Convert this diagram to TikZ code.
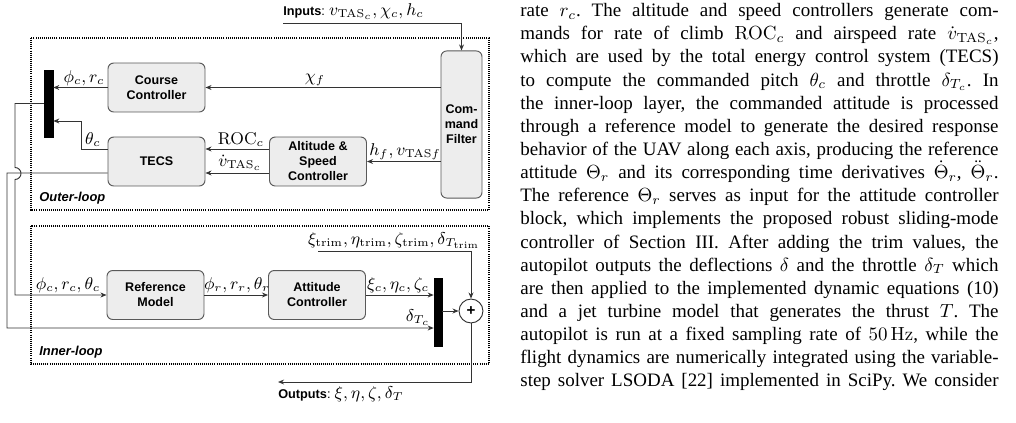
\documentclass[tikz,border=0pt]{standalone}
\usepackage[no-math]{fontspec}
\setmainfont{Liberation Serif}
\newfontfamily\diagsans{Liberation Sans}
\usetikzlibrary{arrows.meta,calc}
\newcommand\jl[1]{\makebox[\linewidth][s]{#1}\\}
\newcommand\jlast[1]{\makebox[\linewidth][s]{#1}}
\begin{document}
\frenchspacing
\begin{tikzpicture}[x=0.527pt,y=-0.527pt,
  blk/.style={draw=black!65, fill=black!7, rounded corners=3pt, line width=0.5pt,
    font=\diagsans\bfseries\fontsize{6.6}{7.9}\selectfont, align=center, inner sep=0pt,
    minimum width=51.1pt, minimum height=25.8pt},
  muxbar/.style={fill=black, draw=black, inner sep=0pt, line width=0.3pt},
  conn/.style={draw=black!80, line width=0.5pt},
  arr/.style={conn, -{Stealth[length=3.2pt,width=2.6pt]}},
  lbl/.style={font=\fontsize{8.6}{10}\selectfont, inner sep=1pt, anchor=south},
  loopbox/.style={draw=black, line width=0.7pt, dash pattern=on 0.5pt off 0.6pt},
  looplbl/.style={font=\diagsans\bfseries\itshape\fontsize{6.8}{8}\selectfont, anchor=west, inner sep=0pt},
  iolbl/.style={font=\fontsize{8.8}{10}\selectfont, inner sep=1pt},
]
\useasboundingbox (0,0) rectangle (1016,422);

% loop frames
\draw[loopbox] (31,38) rectangle (489,210);
\draw[loopbox] (31,226) rectangle (489,364);
\node[looplbl] (outerlbl) at (39,198) {Outer-loop};
\node[looplbl] (innerlbl) at (39,352) {Inner-loop};

% blocks
\node[blk] (cc) at (156.5,87.5) {Course\\Controller};
\node[blk] (tecs) at (156.5,161.5) {TECS};
\node[blk] (asc) at (318,161.5) {Altitude \&\\Speed\\Controller};
\node[blk, minimum width=21.6pt, minimum height=77.5pt] (cf) at (461.5,124.5) {Com-\\mand\\Filter};
\node[blk] (rm) at (155.5,295) {Reference\\Model};
\node[blk] (ac) at (317,295) {Attitude\\Controller};
\node[muxbar, minimum width=4.7pt, minimum height=35.3pt] (mux1) at (48.5,103.5) {};
\node[muxbar, minimum width=4.2pt, minimum height=35.8pt] (mux2) at (438,312) {};
\node[draw=black!80, fill=white, circle, line width=0.5pt, minimum size=12.6pt, inner sep=0pt,
  font=\diagsans\bfseries\fontsize{8}{9}\selectfont] (sum) at (471,311) {+};

% inputs
\coordinate (inp) at (283,23);
\draw[arr] (inp) -| (cf.north);
\node[iolbl, anchor=south west] (inplbl) at (281,22) {{\diagsans\bfseries\fontsize{6.7}{8}\selectfont Inputs}{\diagsans\fontsize{6.7}{8}\selectfont :} $v_{\mathrm{TAS}_c}, \chi_c, h_c$};

% outer loop connectors
\draw[arr] (cf.west |- cc.east) -- (cc.east);
\node[lbl] (chif) at (315,88) {$\chi_f$};
\draw[arr] (cf.west |- asc.east) -- (asc.east);
\node[lbl] (hf) at (405,162) {$h_f, v_{\mathrm{TAS}f}$};
\draw[arr] ($(asc.west)+(0,-12.5)$) -- ($(tecs.east)+(0,-12.5)$);
\node[lbl] (roc) at (241,149) {$\mathrm{ROC}_c$};
\draw[arr] ($(asc.west)+(0,11.5)$) -- ($(tecs.east)+(0,11.5)$);
\node[lbl] (vdot) at (240,173) {$\dot{v}_{\mathrm{TAS}_c}$};
\draw[arr] (cc.west) -- (cc.west -| mux1.east);
\node[lbl] (phirc) at (84,88) {$\phi_c, r_c$};
\coordinate (thk) at (81,121);
\draw[arr] ($(tecs.west)+(0,-12.5)$) -- (81,149) -- (thk) -- (thk -| mux1.east);
\node[lbl] (thc) at (93,149) {$\theta_c$};

% mux1 output to reference model (with jump)
\draw[arr] (mux1.west) -- (15,103.5) -- (15,167.5) arc[start angle=90,end angle=-90,radius=3.16pt] -- (15,295) -- (rm.west);
\node[lbl] (phirtc) at (68,295) {$\phi_c, r_c, \theta_c$};

% throttle
\coordinate (thr) at (7,328);
\draw[arr] ($(tecs.west)+(0,11.5)$) -- (7,173) -- (thr) -- (thr -| mux2.west);
\node[lbl] (dtc) at (418,328) {$\delta_{T_c}$};

% inner loop connectors
\draw[arr] (rm.east) -- (ac.west);
\node[lbl] (phir) at (237,295) {$\phi_r, r_r, \theta_r$};
\draw[arr] (ac.east) -- (ac.east -| mux2.west);
\node[lbl] (xic) at (398,295) {$\xi_c, \eta_c, \zeta_c$};
\draw[arr] (mux2.east |- sum.west) -- (sum.west);
\coordinate (trim) at (318,251);
\draw[arr] (trim) -| (sum.north);
\node[lbl] (trimlbl) at (394,251) {$\xi_{\mathrm{trim}}, \eta_{\mathrm{trim}}, \zeta_{\mathrm{trim}}, \delta_{T_{\mathrm{trim}}}$};
\coordinate (outp) at (278,382);
\draw[arr] (sum.south) |- (outp);
\node[iolbl, anchor=north west] (outlbl) at (276,384) {{\diagsans\bfseries\fontsize{6.7}{8}\selectfont Outputs}{\diagsans\fontsize{6.7}{8}\selectfont :} $\xi, \eta, \zeta, \delta_T$};

% paper text
\node[anchor=base west, inner sep=0pt] (para) at (520,16.7) {\parbox[t]{252pt}{\fontsize{10}{12.19}\selectfont\frenchspacing
\jl{rate $r_c$. The altitude and speed controllers generate com-}
\jl{mands for rate of climb $\mathrm{ROC}_c$ and airspeed rate $\dot{v}_{\mathrm{TAS}_c}$,}
\jl{which are used by the total energy control system (TECS)}
\jl{to compute the commanded pitch $\theta_c$ and throttle $\delta_{T_c}$. In}
\jl{the inner-loop layer, the commanded attitude is processed}
\jl{through a reference model to generate the desired response}
\jl{behavior of the UAV along each axis, producing the reference}
\jl{attitude $\Theta_r$ and its corresponding time derivatives $\dot{\Theta}_r$, $\ddot{\Theta}_r$.}
\jl{The reference $\Theta_r$ serves as input for the attitude controller}
\jl{block, which implements the proposed robust sliding-mode}
\jl{controller of Section III. After adding the trim values, the}
\jl{autopilot outputs the deflections $\delta$ and the throttle $\delta_T$ which}
\jl{are then applied to the implemented dynamic equations (10)}
\jl{and a jet turbine model that generates the thrust $T$. The}
\jl{autopilot is run at a fixed sampling rate of $50\,\mathrm{Hz}$, while the}
\jl{flight dynamics are numerically integrated using the variable-}
\jlast{step solver LSODA [22] implemented in SciPy. We consider}}};
\end{tikzpicture}
\end{document}
